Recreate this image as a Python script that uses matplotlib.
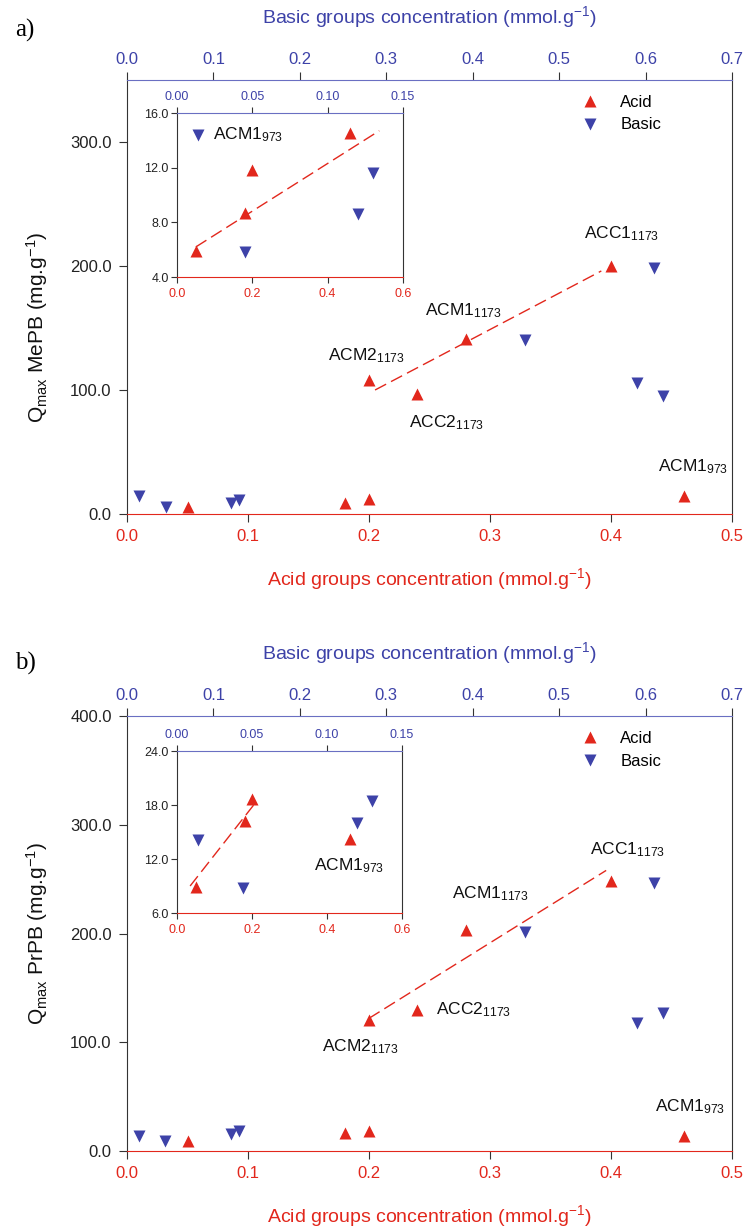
import matplotlib
matplotlib.use('Agg')
import matplotlib.pyplot as plt
from matplotlib.ticker import FormatStrFormatter

plt.rcParams['font.family'] = ['Liberation Sans', 'DejaVu Sans']
plt.rcParams['mathtext.default'] = 'regular'

RED = '#e2271c'
BLUE = '#3d42a8'
SPINE_BLUE = '#6a6fc2'
TICK = '#333333'

# ---- data ----
# panel a, Qmax MePB
a_acid_x = [0.05, 0.18, 0.20, 0.46, 0.20, 0.24, 0.28, 0.40]
a_acid_y = [5.9, 8.7, 11.8, 14.5, 108, 97, 141, 200]
a_basic_x = [0.014, 0.045, 0.12, 0.13, 0.46, 0.59, 0.61, 0.62]
a_basic_y = [14.4, 5.8, 8.6, 11.6, 140, 106, 198, 95]
a_fit_x, a_fit_y = [0.205, 0.392], [100, 196]
a_inset_fit_x, a_inset_fit_y = [0.05, 0.537], [6.2, 14.7]

# panel b, Qmax PrPB
b_acid_x = [0.05, 0.18, 0.20, 0.46, 0.20, 0.24, 0.28, 0.40]
b_acid_y = [8.9, 16.2, 18.7, 14.2, 120.5, 129.7, 203, 248.6]
b_basic_x = [0.014, 0.044, 0.12, 0.13, 0.46, 0.59, 0.61, 0.62]
b_basic_y = [14.1, 8.8, 16.0, 18.5, 201.7, 118, 246, 127]
b_fit_x, b_fit_y = [0.20, 0.396], [122, 258]
b_inset_fit_x, b_inset_fit_y = [0.035, 0.212], [9.0, 18.4]

# sample labels (acid x, Q)
a_labels = [('ACC1$_{1173}$', 0.409, 226), ('ACM1$_{1173}$', 0.278, 164),
            ('ACM2$_{1173}$', 0.198, 128), ('ACC2$_{1173}$', 0.264, 74),
            ('ACM1$_{973}$', 0.468, 38)]
b_labels = [('ACC1$_{1173}$', 0.414, 277), ('ACM1$_{1173}$', 0.30, 237),
            ('ACC2$_{1173}$', 0.286, 130), ('ACM2$_{1173}$', 0.193, 96),
            ('ACM1$_{973}$', 0.465, 41)]

W, H = 746, 1229
fig = plt.figure(figsize=(W / 100, H / 100), dpi=100)


def box(x0, y0, x1, y1):
    return [x0 / W, 1 - y1 / H, (x1 - x0) / W, (y1 - y0) / H]


def style_axes(ax, axt, size, tlen, ypad, xpad):
    ax.spines['top'].set_visible(False)
    ax.spines['bottom'].set_color(RED)
    ax.spines['left'].set_color(TICK)
    ax.spines['right'].set_color(TICK)
    axt.spines['top'].set_color(SPINE_BLUE)
    axt.spines['bottom'].set_visible(False)
    axt.spines['left'].set_visible(False)
    axt.spines['right'].set_visible(False)
    ax.tick_params(axis='x', direction='out', length=tlen, color=TICK,
                   labelcolor=RED, labelsize=size, pad=xpad)
    ax.tick_params(axis='y', direction='out', length=tlen, color=TICK,
                   labelcolor='#222222', labelsize=size, pad=ypad)
    axt.tick_params(axis='x', direction='out', length=tlen, color=TICK,
                    labelcolor=BLUE, labelsize=size, pad=3)


def panel(main_box, inset_box, acid_x, acid_y, basic_x, basic_y,
          fit_x, fit_y, ifit_x, ifit_y, ymax, yticks, iylim, iyticks,
          labels, ylabel, ylabel_y, letter, inset_label):
    ax = fig.add_axes(box(*main_box))
    axt = ax.twiny()
    ax.set_xlim(0, 0.5)
    axt.set_xlim(0, 0.7)
    ax.set_xticks([0, 0.1, 0.2, 0.3, 0.4, 0.5])
    axt.set_xticks([0, 0.1, 0.2, 0.3, 0.4, 0.5, 0.6, 0.7])
    ax.set_yticks(yticks)
    ax.xaxis.set_major_formatter(FormatStrFormatter('%.1f'))
    axt.xaxis.set_major_formatter(FormatStrFormatter('%.1f'))
    ax.yaxis.set_major_formatter(FormatStrFormatter('%.1f'))
    style_axes(ax, axt, 12, 6, 5, 5)

    h_acid, = ax.plot(acid_x, acid_y, '^', color=RED, ms=8.5, mec='none',
                      clip_on=False, zorder=4)
    ax.plot(fit_x, fit_y, color=RED, lw=1, dashes=(9, 4))
    h_basic, = axt.plot(basic_x, basic_y, 'v', color=BLUE, ms=8.5,
                        mec='none', clip_on=False, zorder=4)
    ax.set_ylim(0, ymax)

    for txt, x, y in labels:
        ax.text(x, y, txt, ha='center', va='center', fontsize=12.5,
                color='#111111')

    ax.set_xlabel('Acid groups concentration (mmol.g$^{-1}$)', color=RED,
                  fontsize=14, labelpad=15.5)
    axt.set_xlabel('Basic groups concentration (mmol.g$^{-1}$)', color=BLUE,
                   fontsize=14, labelpad=21)
    ax.set_ylabel(ylabel, fontsize=15, color='#111111')
    ax.yaxis.set_label_coords(-0.127, ylabel_y)

    axt.legend([h_acid, h_basic], ['Acid', 'Basic'], loc='upper left',
               bbox_to_anchor=(0.727, 1.0), frameon=False, fontsize=12,
               handlelength=1.0, handletextpad=1.3, labelspacing=0.45)

    # inset
    ai = fig.add_axes(box(*inset_box))
    ait = ai.twiny()
    ai.set_xlim(0, 0.6)
    ait.set_xlim(0, 0.15)
    ai.set_xticks([0, 0.2, 0.4, 0.6])
    ait.set_xticks([0, 0.05, 0.10, 0.15])
    ai.set_yticks(iyticks)
    ai.xaxis.set_major_formatter(FormatStrFormatter('%.1f'))
    ait.xaxis.set_major_formatter(FormatStrFormatter('%.2f'))
    ai.yaxis.set_major_formatter(FormatStrFormatter('%.1f'))
    style_axes(ai, ait, 9, 4, 2, 4)
    ai.plot(acid_x, acid_y, '^', color=RED, ms=8.5, mec='none', zorder=4)
    ai.plot(ifit_x, ifit_y, color=RED, lw=1, dashes=(9, 4))
    ait.plot(basic_x, basic_y, 'v', color=BLUE, ms=8.5, mec='none', zorder=4)
    ai.set_ylim(*iylim)
    t, x, y, ha = inset_label
    ai.text(x, y, t, ha=ha, va='center', fontsize=12.5, color='#111111')

    fig.text(15 / W, 1 - letter[1] / H, letter[0], family='Liberation Serif',
             fontsize=18, va='center', ha='left')
    return ax


panel((127, 80, 732, 514), (177, 113, 403, 277),
      a_acid_x, a_acid_y, a_basic_x, a_basic_y,
      a_fit_x, a_fit_y, a_inset_fit_x, a_inset_fit_y,
      350, [0, 100, 200, 300], (4, 16), [4, 8, 12, 16],
      a_labels, 'Q$_{max}$ MePB (mg.g$^{-1}$)', 0.43, ('a)', 30),
      ('ACM1$_{973}$', 0.096, 14.4, 'left'))

panel((127, 716, 732, 1151), (177, 751, 402, 913),
      b_acid_x, b_acid_y, b_basic_x, b_basic_y,
      b_fit_x, b_fit_y, b_inset_fit_x, b_inset_fit_y,
      400, [0, 100, 200, 300, 400], (6, 24), [6, 12, 18, 24],
      b_labels, 'Q$_{max}$ PrPB (mg.g$^{-1}$)', 0.5, ('b)', 663),
      ('ACM1$_{973}$', 0.46, 11.3, 'center'))

fig.savefig('out.png', dpi=100, facecolor='white')
